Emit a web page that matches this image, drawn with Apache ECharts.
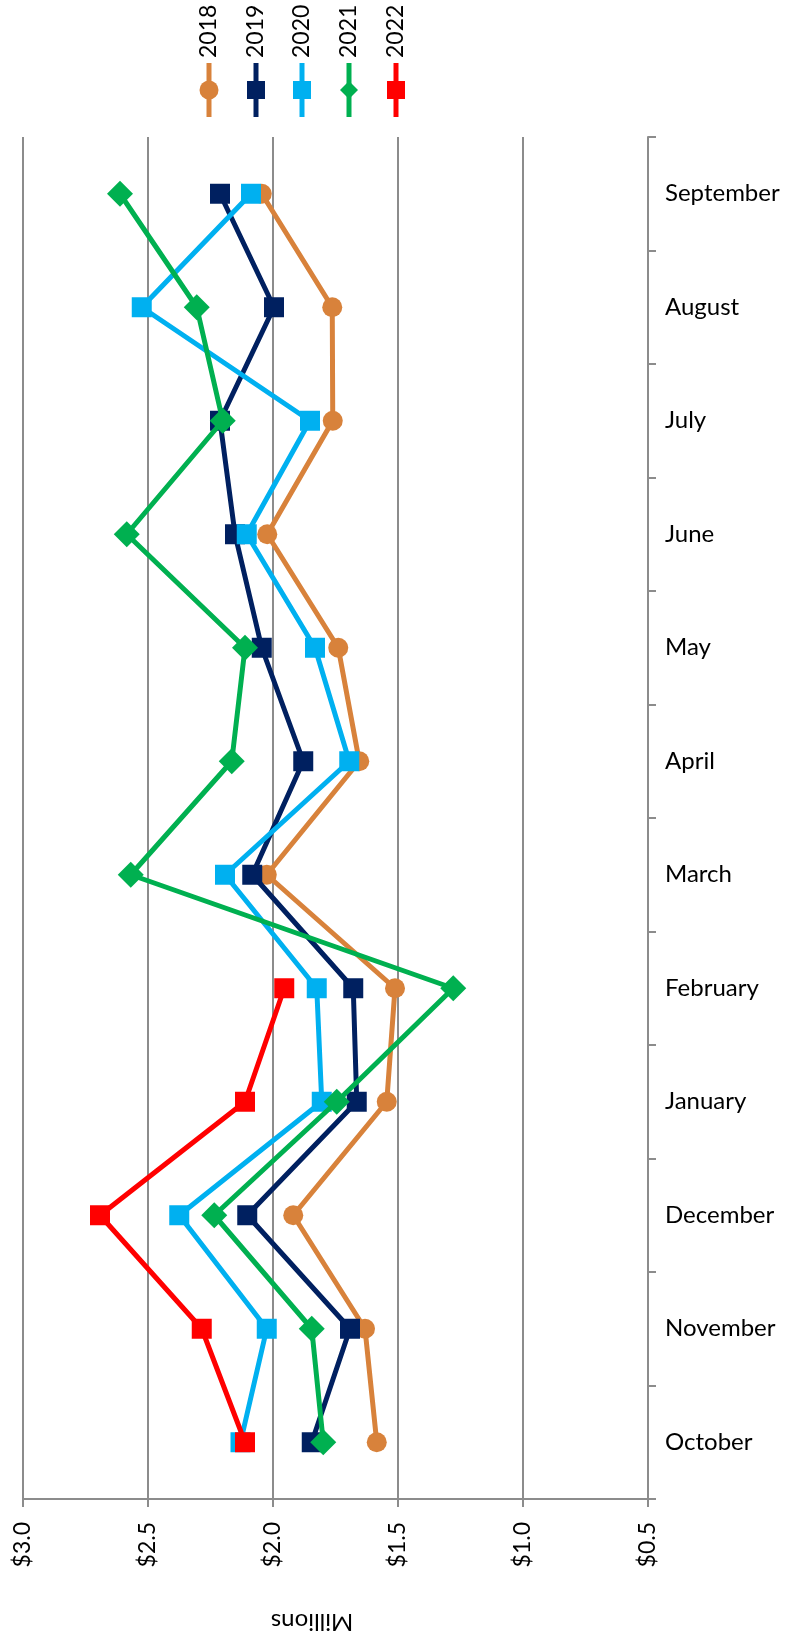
<!DOCTYPE html>
<html>
<head>
<meta charset="utf-8">
<style>
  html, body { margin: 0; padding: 0; background: #ffffff; }
  #chart { width: 788px; height: 1636px; }
</style>
<script src="https://cdn.jsdelivr.net/npm/echarts@6/dist/echarts.min.js"></script>
</head>
<body>
<div id="chart"></div>
<script>
// Months of the fiscal year, October first (drawn at the bottom)
const months = ['October', 'November', 'December', 'January', 'February', 'March',
                'April', 'May', 'June', 'July', 'August', 'September'];

// Monthly totals, $ millions
const y2018 = [1.585, 1.632, 1.919, 1.545, 1.512, 2.025, 1.655, 1.739, 2.023, 1.761, 1.763, 2.045];
const y2019 = [1.845, 1.692, 2.103, 1.665, 1.679, 2.083, 1.879, 2.045, 2.152, 2.212, 1.996, 2.212];
const y2020 = [2.130, 2.025, 2.375, 1.805, 1.825, 2.192, 1.695, 1.832, 2.105, 1.852, 2.525, 2.088];
const y2021 = [1.799, 1.845, 2.235, 1.745, 1.279, 2.569, 2.165, 2.112, 2.585, 2.201, 2.305, 2.612];
const y2022 = [2.112, 2.285, 2.692, 2.112, 1.955, null, null, null, null, null, null, null];

const seriesNames = ['2018', '2019', '2020', '2021', '2022'];
const seriesData = [y2018, y2019, y2020, y2021, y2022];
const colors = ['#D8823B', '#002060', '#00B0F0', '#00B050', '#FF0000'];
const symbols = ['circle', 'rect', 'rect', 'diamond', 'rect'];
const symbolSizes = [20, 20, 20, 26, 20];

const FONT = 'Lato, "Liberation Sans", sans-serif';
const GRAY = '#8C8C8C';

// Legend: rotated year labels above a short vertical line with its marker
const legendX = [209, 256, 302, 349, 396];
const legendGraphics = [];
seriesNames.forEach(function (name, i) {
  const cx = legendX[i];
  legendGraphics.push({
    type: 'line',
    shape: { x1: cx, y1: 63, x2: cx, y2: 117 },
    style: { stroke: colors[i], lineWidth: 5 },
    silent: true
  });
  let marker;
  if (symbols[i] === 'circle') {
    marker = { type: 'circle', shape: { cx: cx, cy: 90, r: 9.5 } };
  } else if (symbols[i] === 'diamond') {
    marker = { type: 'polygon', shape: { points: [[cx, 81], [cx + 9, 90], [cx, 99], [cx - 9, 90]] } };
  } else {
    marker = { type: 'rect', shape: { x: cx - 9, y: 81, width: 18, height: 18 } };
  }
  marker.style = { fill: colors[i] };
  marker.silent = true;
  legendGraphics.push(marker);
  legendGraphics.push({
    type: 'text',
    x: cx, y: 58,
    rotation: Math.PI / 2,
    style: {
      text: name, fill: '#000000', font: '23px ' + FONT,
      align: 'left', verticalAlign: 'middle'
    },
    silent: true
  });
});

// Axis title, drawn upside down below the value labels
legendGraphics.push({
  type: 'text',
  x: 312, y: 1622,
  rotation: Math.PI,
  style: {
    text: 'Millions', fill: '#000000', font: '24px ' + FONT,
    align: 'center', verticalAlign: 'middle'
  },
  silent: true
});

const chart = echarts.init(document.getElementById('chart'), null, { renderer: 'canvas' });

chart.setOption({
  backgroundColor: '#ffffff',
  animation: false,
  grid: { left: 23, right: 140, top: 137, bottom: 137, containLabel: false },
  xAxis: {
    type: 'value',
    inverse: true,
    min: 0.5,
    max: 3.0,
    interval: 0.5,
    axisLine: { show: true, lineStyle: { color: GRAY, width: 2 } },
    axisTick: { show: true, length: 8, lineStyle: { color: GRAY, width: 2 } },
    splitLine: { show: true, lineStyle: { color: GRAY, width: 2 } },
    axisLabel: {
      rotate: 90,
      margin: 23,
      color: '#000000',
      fontFamily: FONT,
      fontSize: 23,
      formatter: function (v) { return '$' + v.toFixed(1); }
    }
  },
  yAxis: {
    type: 'category',
    position: 'right',
    data: months,
    boundaryGap: true,
    axisLine: { show: true, lineStyle: { color: GRAY, width: 2 } },
    axisTick: { show: true, length: 8, alignWithLabel: false, lineStyle: { color: GRAY, width: 2 } },
    splitLine: { show: false },
    axisLabel: {
      margin: 17,
      color: '#000000',
      fontFamily: FONT,
      fontSize: 24
    }
  },
  graphic: legendGraphics,
  series: seriesNames.map(function (name, i) {
    return {
      name: name,
      type: 'line',
      data: seriesData[i],
      symbol: symbols[i],
      symbolSize: symbolSizes[i],
      showSymbol: true,
      connectNulls: false,
      lineStyle: { color: colors[i], width: 5 },
      itemStyle: { color: colors[i] },
      z: 2 + i
    };
  })
});
</script>
</body>
</html>
